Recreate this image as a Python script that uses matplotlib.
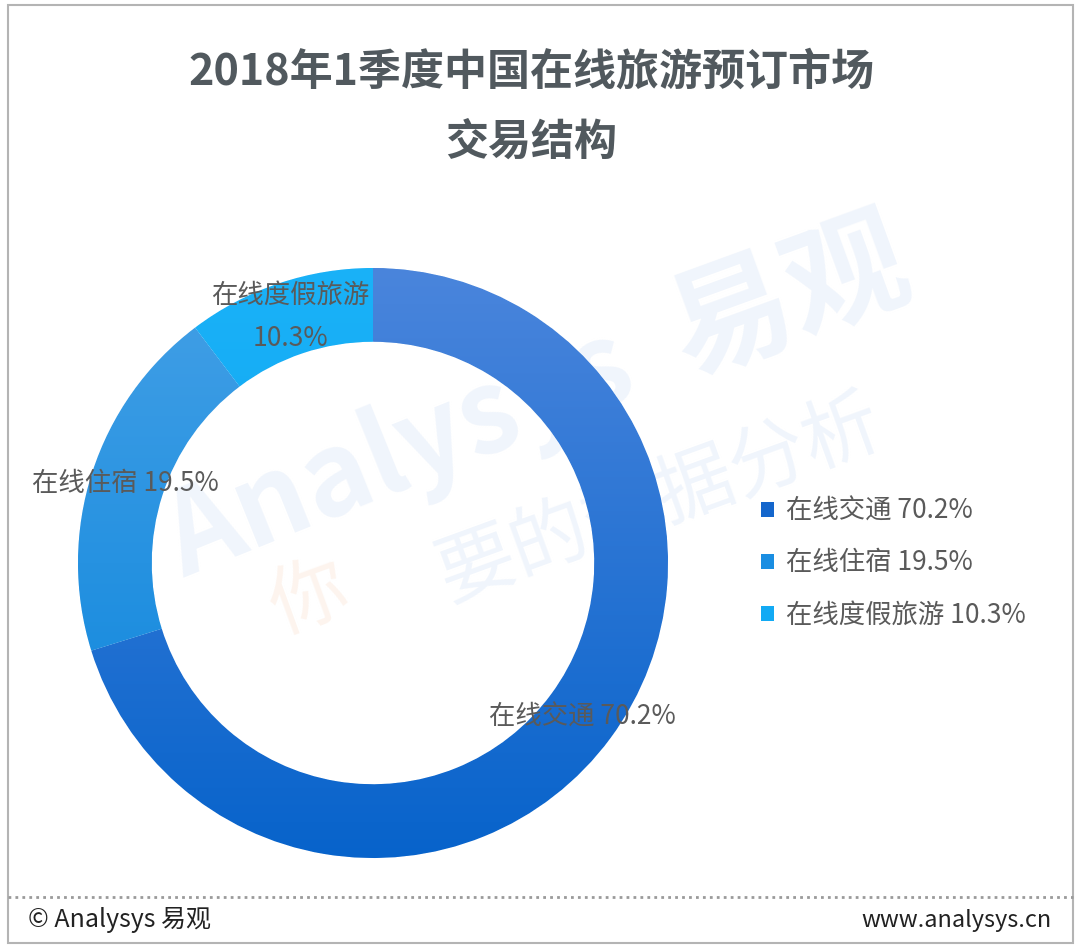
import numpy as np
import matplotlib.pyplot as plt
from matplotlib.colors import LinearSegmentedColormap
from matplotlib.patches import Rectangle, Patch
from matplotlib.lines import Line2D

plt.rcParams['font.family'] = ['Noto Sans CJK SC', 'DejaVu Sans']

# data
categories = ['在线交通', '在线住宿', '在线度假旅游']
shares = [70.2, 19.5, 10.3]
slice_labels = ['在线交通 70.2%', '在线住宿 19.5%', '在线度假旅游\n10.3%']
legend_labels = ['在线交通 70.2%', '在线住宿 19.5%', '在线度假旅游 10.3%']

# gradient colours per slice (top, bottom) and solid legend colours
grad_colors = [('#4a85dc', '#0763cb'), ('#44a0e6', '#0884dc'), ('#1ab2f8', '#0a9cec')]
legend_colors = ['#1466cc', '#1a8ee2', '#12aaf4']

W, H = 1080, 949
fig = plt.figure(figsize=(W / 100, H / 100), dpi=100)
ax = fig.add_axes([0, 0, 1, 1])

cx, cy, R = 373, H - 563, 295

# faint watermark behind everything
wm_blue = '#f0f5fc'
ax.text(400, H - 455, 'Analysys', fontsize=82, fontweight='bold', style='italic',
        color=wm_blue, rotation=22, ha='center', va='center', zorder=0)
ax.text(790, H - 300, '易观', fontsize=88, fontweight='bold',
        color=wm_blue, rotation=20, ha='center', va='center', zorder=0)
ax.text(310, H - 600, '你', fontsize=56, color='#fdf4ee', rotation=20,
        ha='center', va='center', zorder=0)
ax.text(660, H - 500, '要的数据分析', fontsize=56, color=wm_blue, rotation=20,
        ha='center', va='center', zorder=0)

wedges, _ = ax.pie(shares, center=(cx, cy), radius=R, startangle=90,
                   counterclock=False,
                   wedgeprops=dict(width=R * 0.25, edgecolor='white', linewidth=0.6))

# vertical gradient fill clipped to each wedge
grad = np.linspace(0, 1, 256).reshape(-1, 1)
for w, (c_top, c_bot) in zip(wedges, grad_colors):
    w.set_facecolor(c_bot)
    cmap = LinearSegmentedColormap.from_list('g', [c_bot, c_top])
    im = ax.imshow(grad, cmap=cmap, extent=[cx - R, cx + R, cy - R, cy + R],
                   origin='lower', aspect='auto', zorder=w.get_zorder() + 0.1)
    im.set_clip_path(w)

# slice labels along the outer part of the ring
for w, lab in zip(wedges, slice_labels):
    ang = np.deg2rad((w.theta1 + w.theta2) / 2)
    r = R * 0.88
    ax.text(cx + r * np.cos(ang), cy + r * np.sin(ang), lab, fontsize=19,
            color='#5a5a5a', ha='center', va='center', linespacing=1.75, zorder=5)

ax.set_xlim(0, W)
ax.set_ylim(0, H)
ax.axis('off')

# legend
handles = [Patch(facecolor=c, edgecolor='none') for c in legend_colors]
leg = ax.legend(handles, legend_labels, loc='center left',
                bbox_to_anchor=(748 / W, 1 - 563 / H), bbox_transform=fig.transFigure,
                frameon=False, fontsize=19, handlelength=0.5, handleheight=0.5,
                handletextpad=0.45, labelspacing=0.95, borderpad=0)
for t in leg.get_texts():
    t.set_color('#5a5a5a')

# title
title_color = '#51595e'
fig.text(531 / W, 1 - 72 / H, '2018年1季度中国在线旅游预订市场', fontsize=31,
         fontweight='bold', color=title_color, ha='center', va='center')
fig.text(531 / W, 1 - 142 / H, '交易结构', fontsize=31,
         fontweight='bold', color=title_color, ha='center', va='center')

# frame, dotted separator and footer
fig.patches.append(Rectangle((8 / W, 1 - 943 / H), 1065 / W, 938 / H,
                             transform=fig.transFigure, fill=False,
                             edgecolor='#b4b4b4', linewidth=1.5))
fig.lines.append(Line2D([8 / W, 1073 / W], [1 - 897 / H, 1 - 897 / H],
                        transform=fig.transFigure, color='#9a9a9a',
                        linestyle=(0, (1, 1.5)), linewidth=2))
fig.text(28 / W, 1 - 920 / H, '© Analysys 易观', fontsize=18, color='#222222',
         ha='left', va='center')
fig.text(1052 / W, 1 - 920 / H, 'www.analysys.cn', fontsize=17, color='#222222',
         ha='right', va='center')

fig.savefig('out.png', dpi=100, facecolor='white')
